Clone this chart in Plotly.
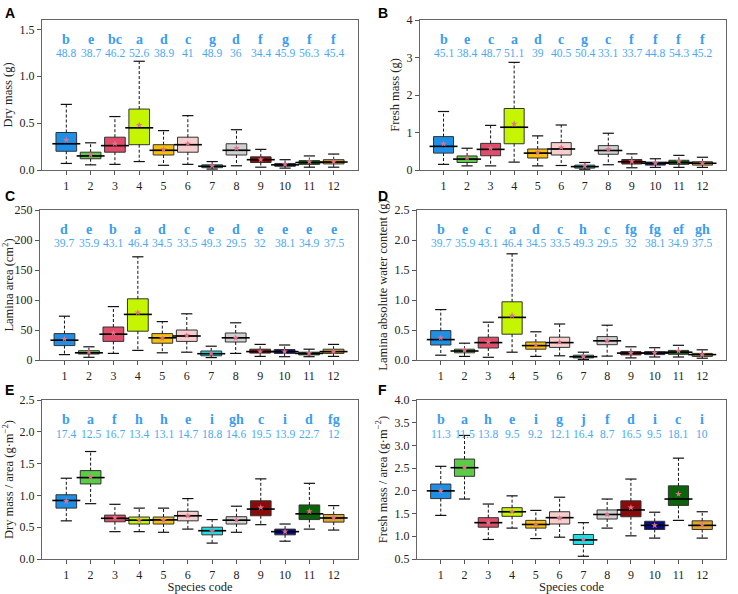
import plotly.graph_objects as go
from plotly.subplots import make_subplots

species = list(range(1, 13))
colors = ["#1E8FE6", "#5CCB45", "#E04D6A", "#C6F500", "#F7BE0A", "#F6CFCC",
          "#1CE0E6", "#D0D0D0", "#8B0A0A", "#0A0A8B", "#0A640A", "#E0A62A"]

# A: dry mass (g)
A_lo = [0.07, 0.055, 0.06, 0.09, 0.05, 0.06, 0.01, 0.045, 0.03, 0.02, 0.03, 0.03]
A_q1 = [0.20, 0.12, 0.19, 0.27, 0.16, 0.19, 0.025, 0.16, 0.08, 0.04, 0.06, 0.065]
A_med = [0.28, 0.15, 0.26, 0.45, 0.21, 0.27, 0.04, 0.21, 0.11, 0.055, 0.08, 0.085]
A_q3 = [0.40, 0.19, 0.35, 0.65, 0.27, 0.35, 0.055, 0.28, 0.14, 0.07, 0.10, 0.11]
A_hi = [0.70, 0.29, 0.57, 1.16, 0.42, 0.58, 0.09, 0.43, 0.22, 0.11, 0.15, 0.17]
A_mean = [0.32, 0.16, 0.28, 0.48, 0.22, 0.28, 0.045, 0.23, 0.11, 0.06, 0.09, 0.09]
A_letters = ["b", "e", "bc", "a", "d", "c", "g", "d", "f", "g", "f", "f"]
A_cv = ["48.8", "38.7", "46.2", "52.6", "38.9", "41", "48.9", "36", "34.4", "45.9", "56.3", "45.4"]

# B: fresh mass (g)
B_lo = [0.15, 0.11, 0.11, 0.21, 0.11, 0.12, 0.02, 0.14, 0.06, 0.07, 0.07, 0.07]
B_q1 = [0.45, 0.20, 0.38, 0.70, 0.32, 0.40, 0.05, 0.42, 0.16, 0.13, 0.15, 0.13]
B_med = [0.63, 0.29, 0.55, 1.14, 0.45, 0.56, 0.09, 0.52, 0.22, 0.18, 0.20, 0.18]
B_q3 = [0.89, 0.375, 0.71, 1.64, 0.56, 0.73, 0.13, 0.65, 0.28, 0.21, 0.26, 0.22]
B_hi = [1.56, 0.58, 1.19, 2.87, 0.91, 1.20, 0.20, 0.98, 0.43, 0.30, 0.39, 0.34]
B_mean = [0.70, 0.32, 0.58, 1.23, 0.47, 0.60, 0.11, 0.55, 0.23, 0.18, 0.23, 0.18]
B_letters = ["b", "e", "c", "a", "d", "c", "g", "c", "f", "f", "f", "f"]
B_cv = ["45.1", "38.4", "48.7", "51.1", "39", "40.5", "50.4", "33.1", "33.7", "44.8", "54.3", "45.2"]

# C: lamina area (cm2)
C_lo = [9, 4.5, 11, 16, 12, 13, 4, 11, 6, 5.5, 5.5, 6]
C_q1 = [24, 10, 31, 48, 28, 31, 7, 30, 11.5, 11, 8.5, 11]
C_med = [33, 12, 43, 76, 37, 40, 10.5, 37, 14, 14, 11, 14]
C_q3 = [44, 15.5, 55, 102, 44, 50, 15, 45, 18, 17.5, 13, 18]
C_hi = [73, 22, 89, 172, 64, 77, 23, 62, 26, 25, 18, 26]
C_mean = [35, 13, 45, 79, 36, 41, 11, 37, 14, 14, 11, 14]
C_letters = ["d", "e", "b", "a", "d", "c", "e", "d", "e", "e", "e", "e"]
C_cv = ["39.7", "35.9", "43.1", "46.4", "34.5", "33.5", "49.3", "29.5", "32", "38.1", "34.9", "37.5"]

# D: lamina absolute water content (g)
D_lo = [0.08, 0.06, 0.045, 0.13, 0.06, 0.07, 0.01, 0.065, 0.035, 0.05, 0.05, 0.03]
D_q1 = [0.25, 0.12, 0.20, 0.43, 0.18, 0.21, 0.035, 0.255, 0.085, 0.09, 0.095, 0.06]
D_med = [0.34, 0.15, 0.29, 0.71, 0.24, 0.29, 0.055, 0.32, 0.115, 0.115, 0.13, 0.09]
D_q3 = [0.49, 0.18, 0.38, 0.97, 0.30, 0.38, 0.08, 0.39, 0.14, 0.14, 0.16, 0.11]
D_hi = [0.84, 0.28, 0.63, 1.77, 0.47, 0.60, 0.13, 0.58, 0.22, 0.205, 0.245, 0.17]
D_mean = [0.37, 0.16, 0.30, 0.74, 0.25, 0.30, 0.055, 0.32, 0.12, 0.12, 0.15, 0.09]
D_letters = ["b", "e", "c", "a", "d", "c", "h", "c", "fg", "fg", "ef", "gh"]
D_cv = ["39.7", "35.9", "43.1", "46.4", "34.5", "33.5", "49.3", "29.5", "32", "38.1", "34.9", "37.5"]

# E: dry mass / area (g m-2)
E_lo = [0.60, 0.87, 0.43, 0.43, 0.42, 0.47, 0.25, 0.42, 0.54, 0.28, 0.47, 0.455]
E_q1 = [0.80, 1.18, 0.585, 0.55, 0.55, 0.60, 0.38, 0.55, 0.68, 0.38, 0.62, 0.58]
E_med = [0.92, 1.28, 0.64, 0.61, 0.615, 0.68, 0.445, 0.61, 0.785, 0.43, 0.71, 0.645]
E_q3 = [1.01, 1.39, 0.69, 0.66, 0.66, 0.75, 0.50, 0.665, 0.915, 0.47, 0.85, 0.70]
E_hi = [1.27, 1.69, 0.86, 0.80, 0.80, 0.95, 0.62, 0.83, 1.26, 0.55, 1.19, 0.84]
E_mean = [0.91, 1.29, 0.65, 0.61, 0.61, 0.68, 0.44, 0.61, 0.81, 0.43, 0.75, 0.65]
E_letters = ["b", "a", "f", "h", "h", "e", "i", "gh", "c", "i", "d", "fg"]
E_cv = ["17.4", "12.5", "16.7", "13.4", "13.1", "14.7", "18.8", "14.6", "19.5", "13.9", "22.7", "12"]

# F: fresh mass / area (g m-2)
F_lo = [1.46, 1.82, 0.93, 1.18, 0.95, 0.98, 0.56, 1.18, 1.01, 0.96, 1.35, 0.96]
F_q1 = [1.83, 2.32, 1.20, 1.44, 1.18, 1.27, 0.82, 1.38, 1.43, 1.15, 1.68, 1.15]
F_med = [2.00, 2.51, 1.30, 1.54, 1.26, 1.41, 0.92, 1.48, 1.58, 1.24, 1.82, 1.24]
F_q3 = [2.15, 2.70, 1.41, 1.63, 1.35, 1.54, 1.04, 1.58, 1.78, 1.33, 2.11, 1.34]
F_hi = [2.54, 3.22, 1.71, 1.89, 1.57, 1.86, 1.30, 1.82, 2.26, 1.53, 2.72, 1.54]
F_mean = [2.00, 2.51, 1.30, 1.54, 1.26, 1.40, 0.93, 1.48, 1.63, 1.24, 1.93, 1.25]
F_letters = ["b", "a", "h", "e", "i", "g", "j", "f", "d", "i", "c", "i"]
F_cv = ["11.3", "11.5", "13.8", "9.5", "9.2", "12.1", "16.4", "8.7", "16.5", "9.5", "18.1", "10"]

panels = [
    ("A", A_lo, A_q1, A_med, A_q3, A_hi, A_mean, A_letters, A_cv,
     "Dry mass (g)", [0, 1.6], [0, 0.5, 1.0, 1.5], ".1f"),
    ("B", B_lo, B_q1, B_med, B_q3, B_hi, B_mean, B_letters, B_cv,
     "Fresh mass (g)", [0, 4], [0, 1, 2, 3, 4], "d"),
    ("C", C_lo, C_q1, C_med, C_q3, C_hi, C_mean, C_letters, C_cv,
     "Lamina area (cm<sup>2</sup>)", [0, 250], [0, 50, 100, 150, 200, 250], "d"),
    ("D", D_lo, D_q1, D_med, D_q3, D_hi, D_mean, D_letters, D_cv,
     "Lamina absolute water content (g)", [0, 2.5], [0, 0.5, 1.0, 1.5, 2.0, 2.5], ".1f"),
    ("E", E_lo, E_q1, E_med, E_q3, E_hi, E_mean, E_letters, E_cv,
     "Dry mass / area (g·m<sup>−2</sup>)", [0, 2.5], [0, 0.5, 1.0, 1.5, 2.0, 2.5], ".1f"),
    ("F", F_lo, F_q1, F_med, F_q3, F_hi, F_mean, F_letters, F_cv,
     "Fresh mass / area (g·m<sup>−2</sup>)", [0.5, 4.0], [0.5, 1.0, 1.5, 2.0, 2.5, 3.0, 3.5, 4.0], ".1f"),
]

W, H = 738, 594
# plot-area pixel boxes (left, right, top, bottom) and panel-label positions
boxes = [(42, 358, 20, 170), (420, 726, 20, 170),
         (40, 358, 210, 360), (417, 726, 210, 360),
         (42, 358, 400, 559), (417, 726, 400, 559)]
label_pos = [(3, 3), (376, 3), (3, 186), (376, 186), (3, 380), (376, 380)]

SERIF = "Liberation Serif"
LETTER_C = "#3A9DF0"
CV_C = "#4AA8F2"

fig = make_subplots(rows=3, cols=2)

for k, (lab, lo, q1, med, q3, hi, mean, letters, cv, ytitle, yr, yt, fmt) in enumerate(panels):
    row, col = k // 2 + 1, k % 2 + 1
    n = k + 1
    # dashed whiskers
    wx, wy = [], []
    for i, s in enumerate(species):
        wx += [s, s, None, s, s, None]
        wy += [q3[i], hi[i], None, q1[i], lo[i], None]
    fig.add_trace(go.Scatter(x=wx, y=wy, mode="lines", showlegend=False,
                             line=dict(color="#111", width=1, dash="3px,2px"),
                             hoverinfo="skip"), row=row, col=col)
    # whisker caps
    fig.add_trace(go.Scatter(x=species + species, y=hi + lo, mode="markers",
                             showlegend=False, hoverinfo="skip",
                             marker=dict(symbol="line-ew", size=8,
                                         line=dict(color="#111", width=1.2))),
                  row=row, col=col)
    # boxes
    for i, s in enumerate(species):
        fig.add_trace(go.Box(x=[s], q1=[q1[i]], median=[med[i]], q3=[q3[i]],
                             lowerfence=[q1[i]], upperfence=[q3[i]],
                             width=0.85, fillcolor=colors[i], whiskerwidth=0,
                             line=dict(color="#333", width=1),
                             boxpoints=False, showlegend=False),
                      row=row, col=col)
    # thicker medians
    fig.add_trace(go.Scatter(x=species, y=med, mode="markers", showlegend=False,
                             hoverinfo="skip",
                             marker=dict(symbol="line-ew", size=20,
                                         line=dict(color="#000", width=1.6))),
                  row=row, col=col)
    # means
    fig.add_trace(go.Scatter(x=species, y=mean, mode="markers", showlegend=False,
                             marker=dict(symbol="star", size=5, color="#E0708C")),
                  row=row, col=col)
    # significance letters and CV
    xs = "x" if n == 1 else f"x{n}"
    ys = "y" if n == 1 else f"y{n}"
    for i, s in enumerate(species):
        fig.add_annotation(x=s, y=0.935, xref=xs, yref=f"{ys} domain",
                           text=f"<b>{letters[i]}</b>", showarrow=False,
                           font=dict(family=SERIF, size=14, color=LETTER_C))
        fig.add_annotation(x=s, y=0.835, xref=xs, yref=f"{ys} domain",
                           text=cv[i], showarrow=False,
                           font=dict(family=SERIF, size=11.5, color=CV_C))
    # panel label
    lx, ly = label_pos[k]
    fig.add_annotation(x=lx / W, y=1 - ly / H, xref="paper", yref="paper",
                       xanchor="left", yanchor="top", text=f"<b>{lab}</b>",
                       showarrow=False,
                       font=dict(family="Liberation Sans", size=14, color="#000"))

    l, r, t, b = boxes[k]
    fig.update_xaxes(domain=[l / W, r / W], range=[0, 13], tickvals=species,
                     row=row, col=col)
    fig.update_yaxes(domain=[1 - b / H, 1 - t / H], range=yr, tickvals=yt,
                     tickformat=fmt, row=row, col=col,
                     title=dict(text=ytitle, standoff=4,
                                font=dict(family=SERIF, size=12.5, color="#222")))
    if row == 3:
        fig.update_xaxes(title=dict(text="Species code", standoff=6,
                                    font=dict(family=SERIF, size=12.5, color="#222")),
                         row=row, col=col)

axis_style = dict(showgrid=False, zeroline=False, showline=True, mirror=True,
                  linecolor="#666", linewidth=1.3, ticks="outside", ticklen=4,
                  tickcolor="#555", tickwidth=1, automargin=False,
                  tickfont=dict(family=SERIF, size=12, color="#222"))
fig.update_xaxes(**axis_style)
fig.update_yaxes(**axis_style)

fig.update_layout(width=W, height=H, template="plotly_white",
                  plot_bgcolor="white", paper_bgcolor="white",
                  margin=dict(l=0, r=0, t=0, b=0), showlegend=False,
                  boxmode="overlay")

# the page's default body margin would push the fixed-size figure off by 8px
fig.write_html("out.html", config={"displayModeBar": False},
               post_script="document.body.style.margin='0';")
